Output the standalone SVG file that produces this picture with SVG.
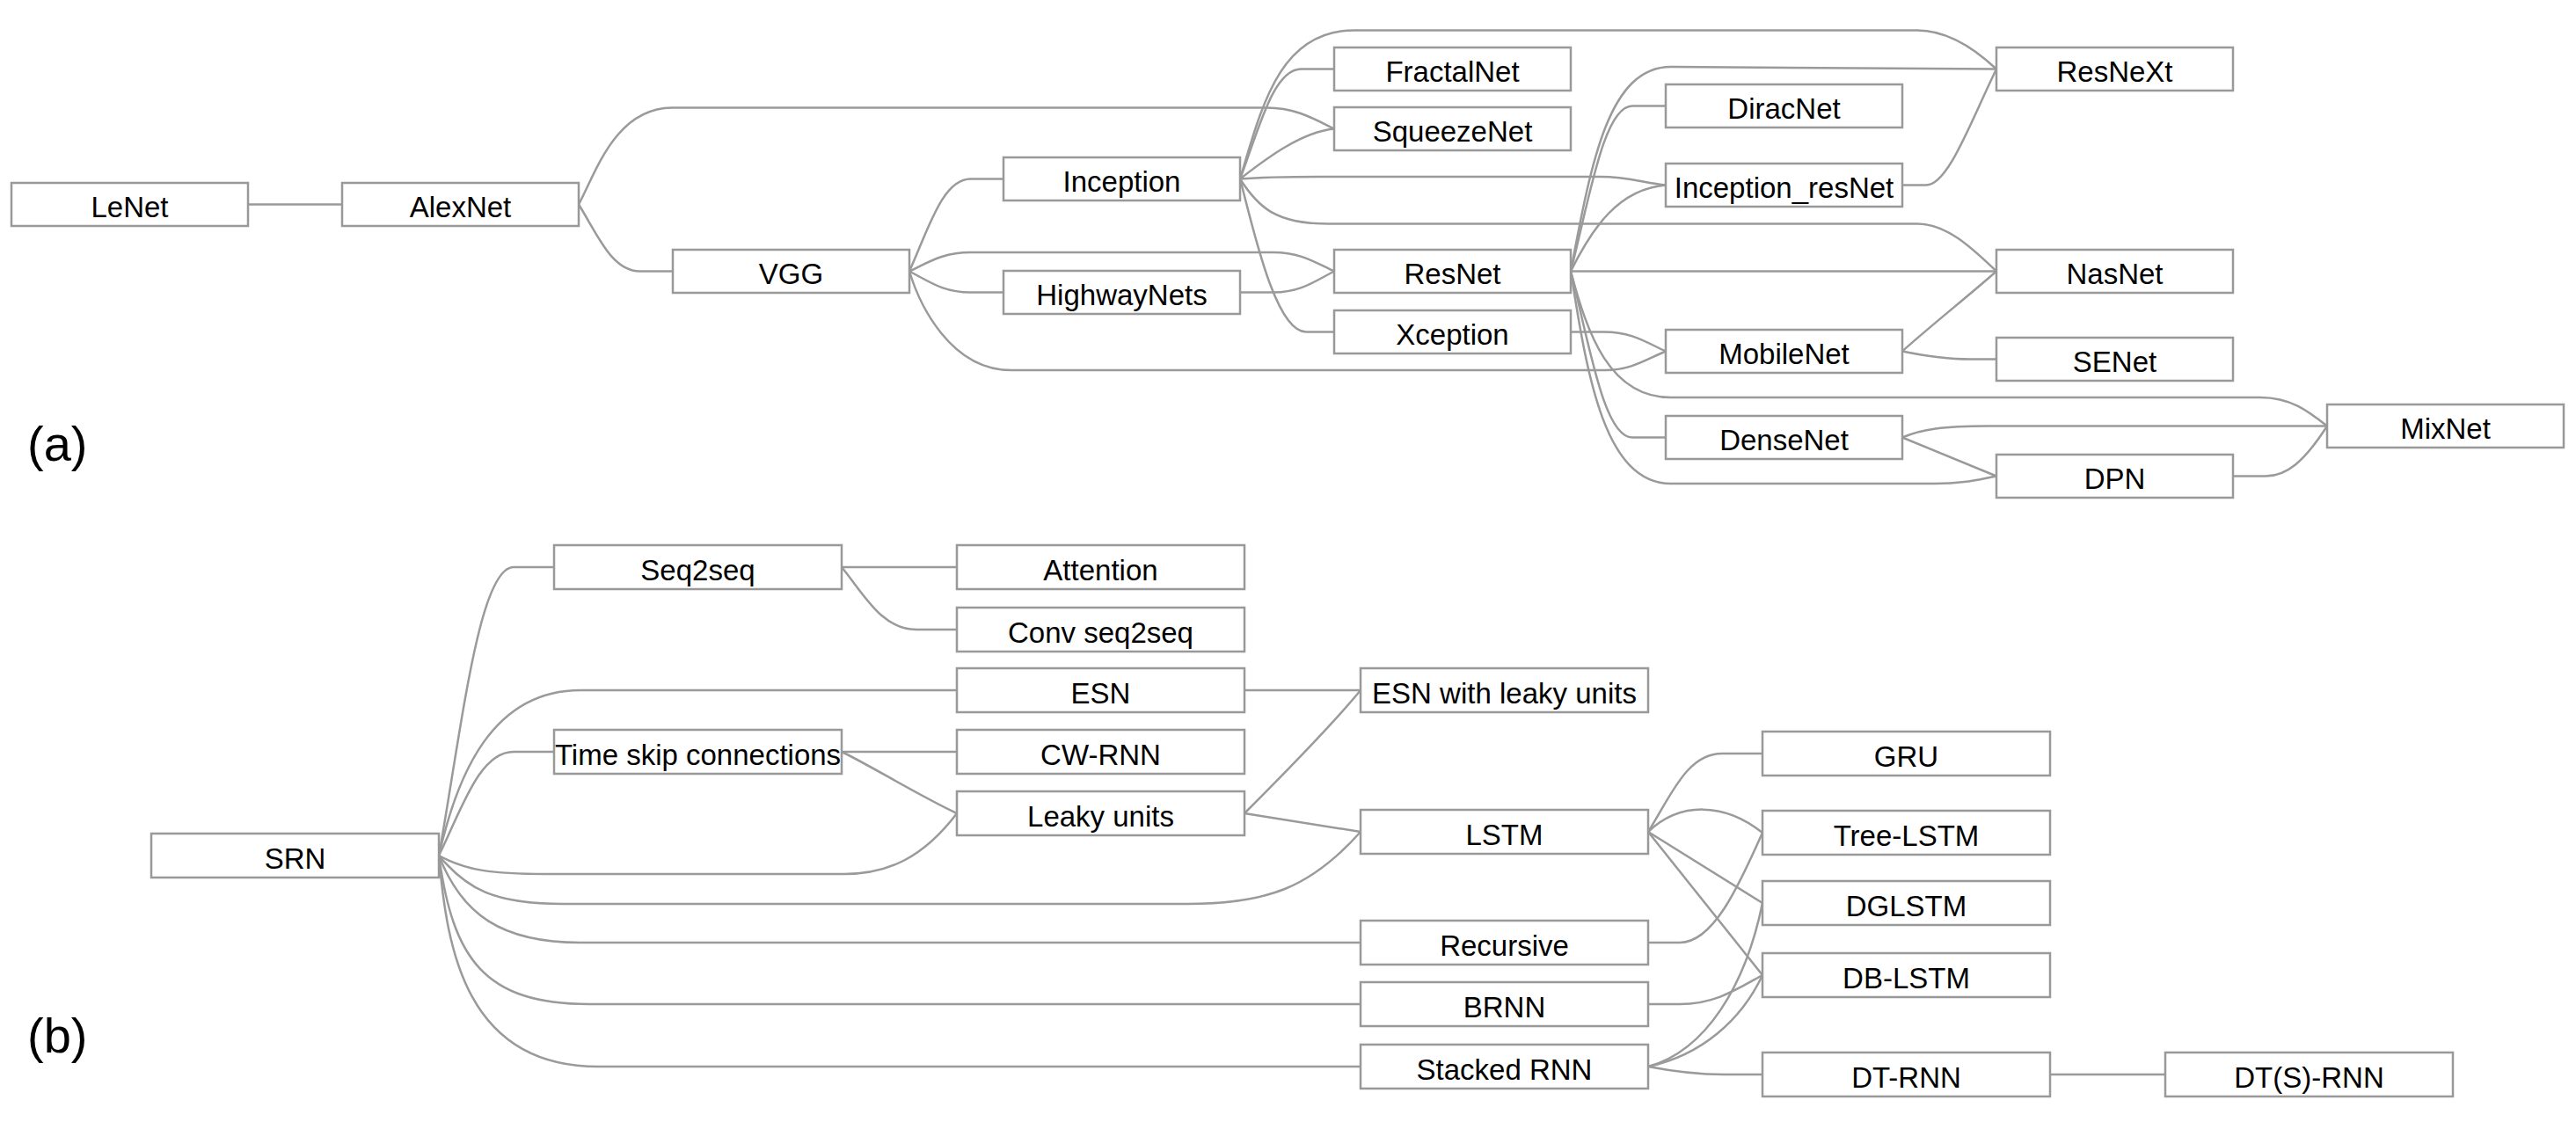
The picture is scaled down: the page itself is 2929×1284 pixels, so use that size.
<svg xmlns="http://www.w3.org/2000/svg" width="2929" height="1284" viewBox="0 0 2929 1284">
<style>
.n rect{fill:#fff;stroke:#999;stroke-width:2.5}
.n text{font-family:"Liberation Sans",Arial,Helvetica,sans-serif;font-size:33px;fill:#000;text-anchor:middle}
.e path{fill:none;stroke:#9a9a9a;stroke-width:2.5}
.lbl{font-family:"Liberation Sans",Arial,Helvetica,sans-serif;font-size:56px;fill:#000}
</style>
<rect width="2929" height="1284" fill="#fff"/>
<g id="connectors" class="e">
<!-- (a) -->
<path d="M282,232.5 L389,232.5"/>
<path d="M658,232.5 C679.4,266.7 695.5,308.5 727.5,308.5 L765,308.5"/>
<path d="M658,232.5 C678,195 700,122.5 765,122.5 L1440,122.5 C1472,122.5 1492,134 1517,146.5"/>
<path d="M1034,308.5 C1055.4,261.3 1071.5,203.5 1103.5,203.5 L1141,203.5"/>
<path d="M1034,308.5 C1055.4,319.3 1071.5,332.5 1103.5,332.5 L1141,332.5"/>
<path d="M1034,308.5 C1055,298.8 1071.5,287 1103.5,287 L1447.5,287 C1479.5,287 1495.6,298.8 1517,308.5"/>
<path d="M1034,308.5 C1045,345 1080,421 1150,421 L1825,421 C1855,421 1873,408 1894,399.5"/>
<path d="M1410,203.5 C1431.4,147.3 1447.5,78.5 1479.5,78.5 L1517,78.5"/>
<path d="M1410,203.5 C1435,120 1455,34.4 1540,34.4 L2180,34.4 C2215,34.4 2245,55 2270,78.5"/>
<path d="M1410,203.5 C1440,180 1480,150 1517,146.5"/>
<path d="M1410,203.5 C1440,201 1460,201 1500,201 L1820,201 C1850,201 1870,208 1894,210.5"/>
<path d="M1410,203.5 C1430,235 1450,254.5 1510,254.5 L2180,254.5 C2215,254.5 2245,285 2270,308.5"/>
<path d="M1410,203.5 C1425,260 1450,377.5 1485,377.5 L1517,377.5"/>
<path d="M1410,332.5 L1447.5,332.5 C1479.5,332.5 1495.6,319.3 1517,308.5"/>
<path d="M1786,308.5 C1807.6,223.9 1823.8,120.5 1856,120.5 L1894,120.5"/>
<path d="M1786,308.5 C1810,180 1830,76 1900,76 L2270,78.5"/>
<path d="M1786,308.5 C1810,260 1840,215 1894,210.5"/>
<path d="M1786,308.5 L2270,308.5"/>
<path d="M1786,308.5 C1805,380 1830,452 1900,452 L2570,452 C2605,452 2625,468 2646,484.5"/>
<path d="M1786,308.5 C1807.6,393.6 1823.8,497.5 1856,497.5 L1894,497.5"/>
<path d="M1786,308.5 C1805,430 1825,550 1900,550 L2200,550 C2235,550 2250,545 2270,541.5"/>
<path d="M1786,377.5 L1824,377.5 C1856,377.5 1872,389.6 1894,399.5"/>
<path d="M2163,210.5 L2190,210.5 C2215,210.5 2240,140 2270,78.5"/>
<path d="M2163,399.5 C2190,375 2240,335 2270,308.5"/>
<path d="M2163,399.5 C2190,405 2215,408.5 2240,408.5 L2270,408.5"/>
<path d="M2163,497.5 C2185,488 2210,484.5 2260,484.5 L2646,484.5"/>
<path d="M2163,497.5 L2270,541.5"/>
<path d="M2539,541.5 L2576,541.5 C2600,541.5 2620,525 2646,484.5"/>
<!-- (b) -->
<path d="M499,973 C525.2,825.4 544.9,645 584,645 L630,645"/>
<path d="M499,973 C520,880 560,785 660,785 L1088,785"/>
<path d="M499,973 C525.2,919.9 544.9,855 584,855 L630,855"/>
<path d="M499,973 C530,990 560,994 620,994 L960,994 C1010,994 1050,975 1088,925"/>
<path d="M499,973 C530,1010 560,1028 640,1028 L1350,1028 C1440,1028 1490,1010 1547,946"/>
<path d="M499,973 C525,1040 570,1072 660,1072 L1547,1072"/>
<path d="M499,973 C515,1090 550,1142 670,1142 L1547,1142"/>
<path d="M499,973 C508,1080 530,1213 680,1213 L1547,1213"/>
<path d="M957,645 L1088,645"/>
<path d="M957,645 C983.2,677 1002.9,716 1042,716 L1088,716"/>
<path d="M957,855 L1088,855"/>
<path d="M957,855 C985,868 1045,905 1088,925"/>
<path d="M1415,785 L1547,785"/>
<path d="M1415,925 C1450,890 1510,830 1547,785"/>
<path d="M1415,925 L1547,946"/>
<path d="M1874,946 C1900,905 1918,857 1958,857 L2004,857"/>
<path d="M1874,946 C1910,912 1960,912 2004,947"/>
<path d="M1874,946 L2004,1027"/>
<path d="M1874,946 L2004,1109"/>
<path d="M1874,1072 L1910,1072 C1950,1072 1980,1000 2004,947"/>
<path d="M1874,1142 L1910,1142 C1950,1142 1975,1125 2004,1109"/>
<path d="M1874,1213 C1940,1195 1985,1120 2004,1027"/>
<path d="M1874,1213 C1935,1200 1980,1160 2004,1109"/>
<path d="M1874,1213 C1900,1218 1930,1222 1960,1222 L2004,1222"/>
<path d="M2331,1222 L2462,1222"/>
</g>
<!-- (a) nodes -->
<g id="LeNet" class="n"><rect x="13" y="208" width="269" height="49"/><text x="147.5" y="246.5">LeNet</text></g>
<g id="AlexNet" class="n"><rect x="389" y="208" width="269" height="49"/><text x="523.5" y="246.5">AlexNet</text></g>
<g id="VGG" class="n"><rect x="765" y="284" width="269" height="49"/><text x="899.5" y="322.5">VGG</text></g>
<g id="Inception" class="n"><rect x="1141" y="179" width="269" height="49"/><text x="1275.5" y="217.5">Inception</text></g>
<g id="HighwayNets" class="n"><rect x="1141" y="308" width="269" height="49"/><text x="1275.5" y="346.5">HighwayNets</text></g>
<g id="FractalNet" class="n"><rect x="1517" y="54" width="269" height="49"/><text x="1651.5" y="92.5">FractalNet</text></g>
<g id="SqueezeNet" class="n"><rect x="1517" y="122" width="269" height="49"/><text x="1651.5" y="160.5">SqueezeNet</text></g>
<g id="ResNet" class="n"><rect x="1517" y="284" width="269" height="49"/><text x="1651.5" y="322.5">ResNet</text></g>
<g id="Xception" class="n"><rect x="1517" y="353" width="269" height="49"/><text x="1651.5" y="391.5">Xception</text></g>
<g id="DiracNet" class="n"><rect x="1894" y="96" width="269" height="49"/><text x="2028.5" y="134.5">DiracNet</text></g>
<g id="Inception_resNet" class="n"><rect x="1894" y="186" width="269" height="49"/><text x="2028.5" y="224.5">Inception_resNet</text></g>
<g id="MobileNet" class="n"><rect x="1894" y="375" width="269" height="49"/><text x="2028.5" y="413.5">MobileNet</text></g>
<g id="DenseNet" class="n"><rect x="1894" y="473" width="269" height="49"/><text x="2028.5" y="511.5">DenseNet</text></g>
<g id="ResNeXt" class="n"><rect x="2270" y="54" width="269" height="49"/><text x="2404.5" y="92.5">ResNeXt</text></g>
<g id="NasNet" class="n"><rect x="2270" y="284" width="269" height="49"/><text x="2404.5" y="322.5">NasNet</text></g>
<g id="SENet" class="n"><rect x="2270" y="384" width="269" height="49"/><text x="2404.5" y="422.5">SENet</text></g>
<g id="MixNet" class="n"><rect x="2646" y="460" width="269" height="49"/><text x="2780.5" y="498.5">MixNet</text></g>
<g id="DPN" class="n"><rect x="2270" y="517" width="269" height="49"/><text x="2404.5" y="555.5">DPN</text></g>
<!-- (b) nodes -->
<g id="SRN" class="n"><rect x="172" y="948" width="327" height="50"/><text x="335.5" y="987.5">SRN</text></g>
<g id="Seq2seq" class="n"><rect x="630" y="620" width="327" height="50"/><text x="793.5" y="659.5">Seq2seq</text></g>
<g id="TimeSkip" class="n"><rect x="630" y="830" width="327" height="50"/><text x="793.5" y="869.5">Time skip connections</text></g>
<g id="Attention" class="n"><rect x="1088" y="620" width="327" height="50"/><text x="1251.5" y="659.5">Attention</text></g>
<g id="ConvSeq2seq" class="n"><rect x="1088" y="691" width="327" height="50"/><text x="1251.5" y="730.5">Conv seq2seq</text></g>
<g id="ESN" class="n"><rect x="1088" y="760" width="327" height="50"/><text x="1251.5" y="799.5">ESN</text></g>
<g id="CW-RNN" class="n"><rect x="1088" y="830" width="327" height="50"/><text x="1251.5" y="869.5">CW-RNN</text></g>
<g id="LeakyUnits" class="n"><rect x="1088" y="900" width="327" height="50"/><text x="1251.5" y="939.5">Leaky units</text></g>
<g id="ESNLeaky" class="n"><rect x="1547" y="760" width="327" height="50"/><text x="1710.5" y="799.5">ESN with leaky units</text></g>
<g id="LSTM" class="n"><rect x="1547" y="921" width="327" height="50"/><text x="1710.5" y="960.5">LSTM</text></g>
<g id="Recursive" class="n"><rect x="1547" y="1047" width="327" height="50"/><text x="1710.5" y="1086.5">Recursive</text></g>
<g id="BRNN" class="n"><rect x="1547" y="1117" width="327" height="50"/><text x="1710.5" y="1156.5">BRNN</text></g>
<g id="StackedRNN" class="n"><rect x="1547" y="1188" width="327" height="50"/><text x="1710.5" y="1227.5">Stacked RNN</text></g>
<g id="GRU" class="n"><rect x="2004" y="832" width="327" height="50"/><text x="2167.5" y="871.5">GRU</text></g>
<g id="Tree-LSTM" class="n"><rect x="2004" y="922" width="327" height="50"/><text x="2167.5" y="961.5">Tree-LSTM</text></g>
<g id="DGLSTM" class="n"><rect x="2004" y="1002" width="327" height="50"/><text x="2167.5" y="1041.5">DGLSTM</text></g>
<g id="DB-LSTM" class="n"><rect x="2004" y="1084" width="327" height="50"/><text x="2167.5" y="1123.5">DB-LSTM</text></g>
<g id="DT-RNN" class="n"><rect x="2004" y="1197" width="327" height="50"/><text x="2167.5" y="1236.5">DT-RNN</text></g>
<g id="DTS-RNN" class="n"><rect x="2462" y="1197" width="327" height="50"/><text x="2625.5" y="1236.5">DT(S)-RNN</text></g>
<text class="lbl" x="31" y="524">(a)</text>
<text class="lbl" x="31" y="1197">(b)</text>
</svg>
